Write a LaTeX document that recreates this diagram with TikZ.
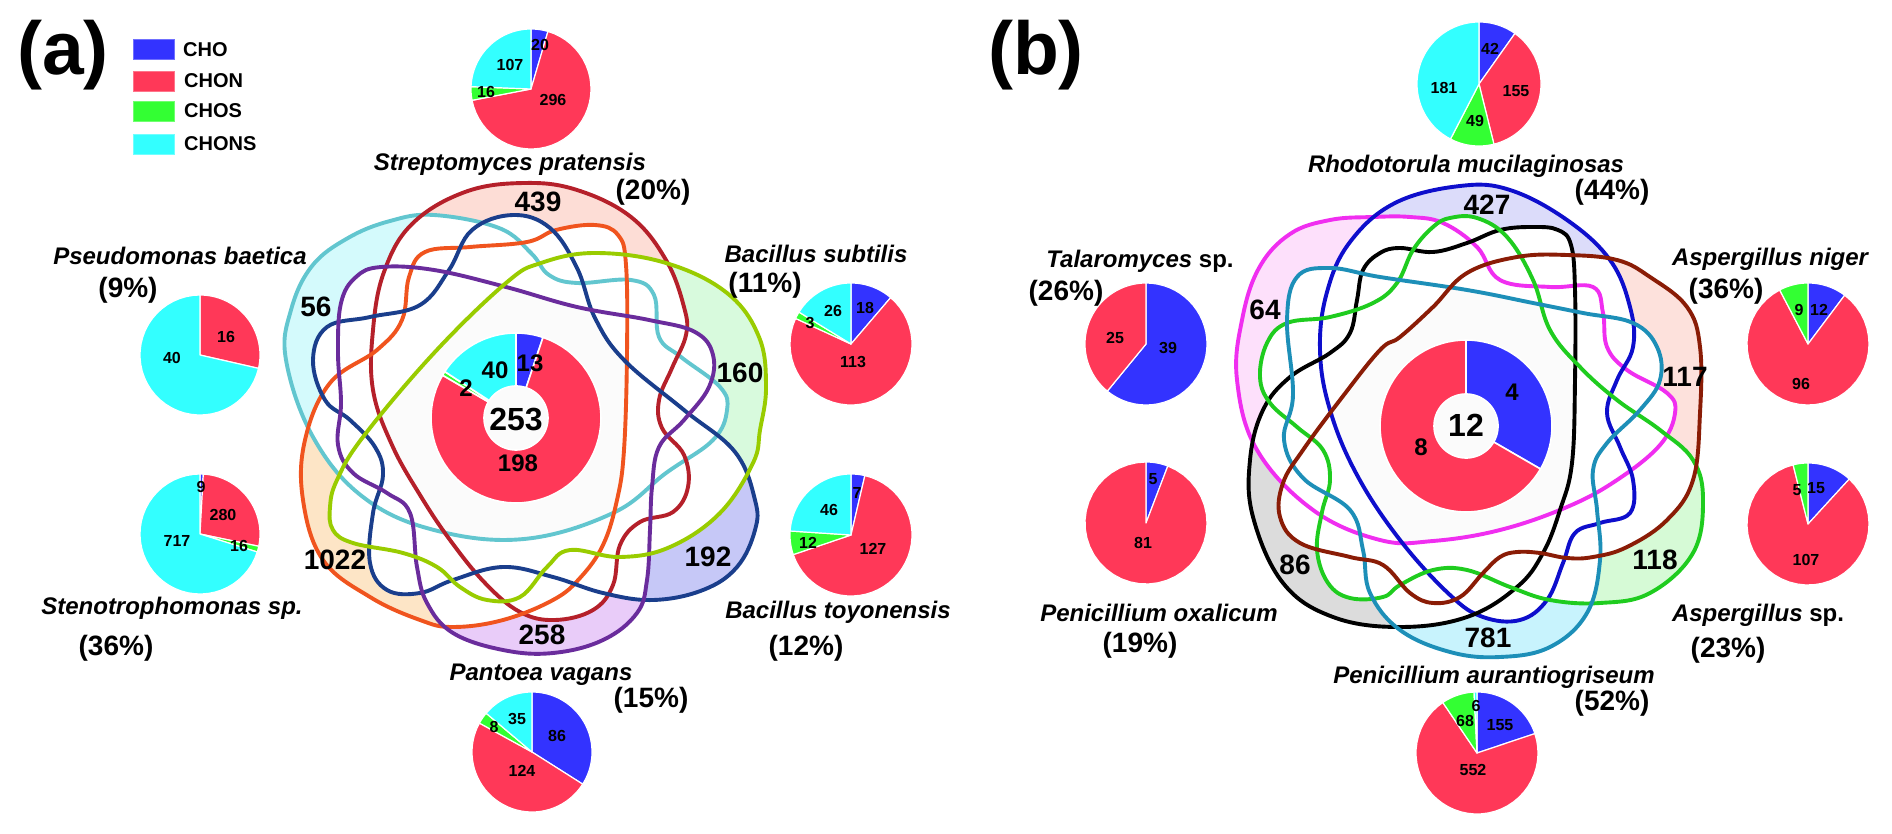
\documentclass[tikz,border=0pt]{standalone}
\usepackage{fontspec}
\setmainfont{Liberation Sans}
\definecolor{cho}{HTML}{3333FF}
\definecolor{chon}{HTML}{FF3858}
\definecolor{chos}{HTML}{33FF33}
\definecolor{chons}{HTML}{33FFFF}
% panel a curves
\definecolor{aTl}{HTML}{62C6CF}\definecolor{aTlf}{HTML}{D4FAFC}
\definecolor{aRd}{HTML}{B5202A}\definecolor{aRdf}{HTML}{FDDDD6}
\definecolor{aOr}{HTML}{F0541E}\definecolor{aOrf}{HTML}{FDE5C6}
\definecolor{aNv}{HTML}{1A3E8C}\definecolor{aNvf}{HTML}{C6C8F7}
\definecolor{aPu}{HTML}{6A2C9C}\definecolor{aPuf}{HTML}{E9CCF9}
\definecolor{aGr}{HTML}{99CC00}\definecolor{aGrf}{HTML}{D8FADD}
% panel b curves
\definecolor{bBl}{HTML}{0E0ECC}\definecolor{bBlf}{HTML}{DCDCFA}
\definecolor{bMg}{HTML}{F02EF0}\definecolor{bMgf}{HTML}{FDE0FB}
\definecolor{bGr}{HTML}{1FCC1F}\definecolor{bGrf}{HTML}{D6FAD6}
\definecolor{bBk}{HTML}{000000}\definecolor{bBkf}{HTML}{DCDCDC}
\definecolor{bTl}{HTML}{1D8FB8}\definecolor{bTlf}{HTML}{C8F3FD}
\definecolor{bBr}{HTML}{8A1C06}\definecolor{bBrf}{HTML}{FDE1DC}
\definecolor{cen}{HTML}{FBFBFB}
\tikzset{
 plbl/.style={font=\bfseries\fontsize{16}{16}\selectfont, inner sep=0pt},
 num/.style={font=\bfseries\fontsize{28}{28}\selectfont, inner sep=0pt},
 spec/.style={font=\bfseries\itshape\fontsize{24}{24}\selectfont, inner sep=0pt, anchor=base},
 pct/.style={font=\bfseries\fontsize{28}{28}\selectfont, inner sep=0pt},
 dlbl/.style={font=\bfseries\fontsize{24}{24}\selectfont, inner sep=0pt},
 big/.style={font=\bfseries\fontsize{32}{32}\selectfont, inner sep=0pt},
 panel/.style={font=\bfseries\fontsize{75}{75}\selectfont, inner sep=0pt},
 legtxt/.style={font=\bfseries\fontsize{20}{20}\selectfont, inner sep=0pt, anchor=west},
 legbox/.style={line width=0.6pt},
 venn/.style={line width=3.9pt},
}
\newcommand\pslice[6]{\fill[#6,draw=white,line width=1.2pt,line join=round] (#1,#2) -- plot[domain=#4:#5,samples=40,variable=\t] ({#1+#3*cos(\t)},{#2+#3*sin(\t)}) -- cycle;}
\newcommand\dslice[7]{\fill[#7,draw=white,line width=1.6pt,line join=round] plot[domain=#5:#6,samples=60,variable=\t] ({#1+#3*cos(\t)},{#2+#3*sin(\t)}) -- plot[domain=#6:#5,samples=60,variable=\t] ({#1+#4*cos(\t)},{#2+#4*sin(\t)}) -- cycle;}
\begin{document}
\begin{tikzpicture}[x=1pt,y=-1pt]
\useasboundingbox (0,0) rectangle (1892,834);
% ---------- curve definitions (panel a)
\def\cA{plot[smooth cycle,tension=0.65] coordinates {(286,360)(313,437)(363,497)(434,530)(524,539)(613,513)(666,473)(713,440)(727,410)(720,387)(681,357)(659,337)(654,295)(631,280)(577,283)(549,275)(531,253)(499,228)(434,215)(390,221)(348,238)(312,266)(291,310)}}
\def\cB{plot[smooth cycle,tension=0.65] coordinates {(524,183)(577,190)(631,217)(666,260)(684,307)(686,335)(672,368)(659,400)(662,428)(684,455)(688,487)(673,512)(640,522)(620,545)(613,585)(593,610)(555,620)(520,612)(485,583)(450,540)(420,495)(392,445)(373,390)(373,330)(384,272)(412,224)(465,192)}}
\def\cC{plot[smooth cycle,tension=0.65] coordinates {(527,242)(556,230)(595,225)(618,235)(626,265)(627,353)(624,450)(617,500)(603,545)(580,578)(553,600)(503,620)(453,627)(420,620)(370,597)(323,560)(303,500)(305,440)(330,383)(377,350)(402,320)(409,277)(425,252)(470,247)}}
\def\cD{plot[smooth cycle,tension=0.65] coordinates {(513,215)(550,228)(577,268)(595,318)(624,360)(684,410)(735,452)(755,500)(755,530)(737,567)(703,590)(653,600)(603,593)(553,577)(503,567)(453,580)(420,593)(387,590)(370,563)(373,513)(383,475)(375,447)(350,420)(325,400)(313,360)(327,327)(370,317)(420,305)(449,270)(472,230)}}
\def\cE{plot[smooth cycle,tension=0.65] coordinates {(381,267)(434,270)(506,287)(577,307)(649,320)(695,332)(713,355)(709,387)(684,420)(659,447)(652,487)(650,530)(647,580)(637,613)(603,640)(553,653)(503,650)(453,633)(427,603)(417,567)(410,513)(387,493)(353,473)(338,445)(341,403)(338,353)(341,303)(356,277)}}
\def\cF{plot[smooth cycle,tension=0.65] coordinates {(595,253)(666,263)(727,293)(759,337)(766,387)(760,430)(753,463)(720,513)(670,547)(620,557)(570,550)(547,567)(520,597)(487,600)(460,587)(437,567)(403,553)(353,543)(333,530)(330,507)(337,480)(363,437)(434,353)(506,283)(541,263)}}
% ---------- curve definitions (panel b)
\def\cM{plot[smooth cycle,tension=0.65] coordinates {(1290,234)(1330,220)(1373,217)(1410,217)(1443,223)(1477,247)(1500,280)(1550,287)(1593,287)(1603,313)(1607,347)(1627,370)(1667,393)(1675,413)(1660,445)(1617,480)(1567,507)(1500,530)(1433,541)(1380,540)(1313,510)(1257,450)(1237,380)(1242,320)(1259,268)}}
\def\cN{plot[smooth cycle,tension=0.65] coordinates {(1350,242)(1395,203)(1460,186)(1510,190)(1567,220)(1610,260)(1630,307)(1633,347)(1617,380)(1607,413)(1620,447)(1633,480)(1630,513)(1600,523)(1575,533)(1563,563)(1547,600)(1520,620)(1483,617)(1450,595)(1400,540)(1357,475)(1330,410)(1320,350)(1327,292)}}
\def\cK{plot[smooth cycle,tension=0.65] coordinates {(1380,253)(1400,248)(1433,252)(1467,243)(1500,230)(1533,227)(1558,230)(1571,245)(1575,290)(1575,380)(1572,463)(1560,510)(1543,553)(1517,587)(1467,617)(1400,627)(1333,617)(1283,583)(1253,517)(1250,460)(1263,410)(1290,377)(1330,353)(1350,333)(1357,300)(1363,270)}}
\def\cG{plot[smooth cycle,tension=0.65] coordinates {(1433,227)(1450,218)(1477,218)(1507,237)(1533,280)(1550,330)(1580,367)(1617,400)(1660,430)(1693,460)(1703,500)(1693,553)(1650,593)(1600,603)(1550,600)(1510,587)(1467,570)(1433,570)(1400,585)(1383,597)(1350,598)(1328,583)(1317,550)(1322,512)(1330,480)(1323,450)(1297,427)(1270,403)(1260,377)(1267,343)(1287,323)(1330,317)(1373,303)(1397,283)(1413,250)}}
\def\cT{plot[smooth cycle,tension=0.65] coordinates {(1297,277)(1330,268)(1380,277)(1467,290)(1533,303)(1583,313)(1633,323)(1657,347)(1660,380)(1640,410)(1607,443)(1593,470)(1597,510)(1600,560)(1587,613)(1550,647)(1500,657)(1450,652)(1400,630)(1370,593)(1363,550)(1350,510)(1303,478)(1284,440)(1293,395)(1287,320)}}
\def\cR{plot[smooth cycle,tension=0.65] coordinates {(1400,337)(1433,307)(1467,273)(1517,257)(1567,255)(1617,260)(1650,277)(1687,307)(1700,347)(1700,413)(1693,480)(1667,520)(1627,547)(1593,557)(1567,558)(1540,553)(1517,552)(1500,557)(1483,573)(1460,597)(1433,603)(1410,593)(1383,565)(1350,557)(1300,543)(1280,517)(1283,483)(1303,450)(1340,400)(1380,350)}}
% ---------- unique-region fills (panel a)
\begin{scope}\clip \cA; \fill[aTlf] \cA; \fill[white] \cB; \fill[white] \cC; \fill[white] \cD; \fill[white] \cE; \fill[white] \cF;\end{scope}
\begin{scope}\clip \cB; \fill[aRdf] \cB; \fill[white] \cA; \fill[white] \cC; \fill[white] \cD; \fill[white] \cE; \fill[white] \cF;\end{scope}
\begin{scope}\clip \cC; \fill[aOrf] \cC; \fill[white] \cA; \fill[white] \cB; \fill[white] \cD; \fill[white] \cE; \fill[white] \cF;\end{scope}
\begin{scope}\clip \cD; \fill[aNvf] \cD; \fill[white] \cA; \fill[white] \cB; \fill[white] \cC; \fill[white] \cE; \fill[white] \cF;\end{scope}
\begin{scope}\clip \cE; \fill[aPuf] \cE; \fill[white] \cA; \fill[white] \cB; \fill[white] \cC; \fill[white] \cD; \fill[white] \cF;\end{scope}
\begin{scope}\clip \cF; \fill[aGrf] \cF; \fill[white] \cA; \fill[white] \cB; \fill[white] \cC; \fill[white] \cD; \fill[white] \cE;\end{scope}
\begin{scope}\clip \cA; \clip \cB; \clip \cC; \clip \cD; \clip \cE; \clip \cF; \fill[cen] (0,0) rectangle (1892,834);\end{scope}
% ---------- unique-region fills (panel b)
\begin{scope}\clip \cM; \fill[bMgf] \cM; \fill[white] \cN; \fill[white] \cK; \fill[white] \cG; \fill[white] \cT; \fill[white] \cR;\end{scope}
\begin{scope}\clip \cN; \fill[bBlf] \cN; \fill[white] \cM; \fill[white] \cK; \fill[white] \cG; \fill[white] \cT; \fill[white] \cR;\end{scope}
\begin{scope}\clip \cK; \fill[bBkf] \cK; \fill[white] \cM; \fill[white] \cN; \fill[white] \cG; \fill[white] \cT; \fill[white] \cR;\end{scope}
\begin{scope}\clip \cG; \fill[bGrf] \cG; \fill[white] \cM; \fill[white] \cN; \fill[white] \cK; \fill[white] \cT; \fill[white] \cR;\end{scope}
\begin{scope}\clip \cT; \fill[bTlf] \cT; \fill[white] \cM; \fill[white] \cN; \fill[white] \cK; \fill[white] \cG; \fill[white] \cR;\end{scope}
\begin{scope}\clip \cR; \fill[bBrf] \cR; \fill[white] \cM; \fill[white] \cN; \fill[white] \cK; \fill[white] \cG; \fill[white] \cT;\end{scope}
\begin{scope}\clip \cM; \clip \cN; \clip \cK; \clip \cG; \clip \cT; \clip \cR; \fill[cen] (0,0) rectangle (1892,834);\end{scope}
% ---------- curve outlines
\draw[venn,aTl] \cA; \draw[venn,aRd] \cB; \draw[venn,aOr] \cC;
\draw[venn,aNv] \cD; \draw[venn,aPu] \cE; \draw[venn,aGr] \cF;
\draw[venn,bMg] \cM; \draw[venn,bBl] \cN; \draw[venn,bBk] \cK;
\draw[venn,bGr] \cG; \draw[venn,bTl] \cT; \draw[venn,bBr] \cR;
% ---------- central donuts
\dslice{516}{418}{85}{32}{-90}{-71.50}{cho}
\dslice{516}{418}{85}{32}{-71.50}{210.24}{chon}
\dslice{516}{418}{85}{32}{210.24}{213.09}{chos}
\dslice{516}{418}{85}{32}{213.09}{270}{chons}
\dslice{1466}{426}{86}{32}{-90}{30}{cho}
\dslice{1466}{426}{86}{32}{30}{270}{chon}
% ---------- pies panel a
\pslice{531}{89}{60}{-90}{-73.60}{cho}\pslice{531}{89}{60}{-73.60}{169.13}{chon}\pslice{531}{89}{60}{169.13}{182.25}{chos}\pslice{531}{89}{60}{182.25}{270}{chons}
\pslice{200}{355}{60}{-90}{12.86}{chon}\pslice{200}{355}{60}{12.86}{270}{chons}
\pslice{200}{534}{60}{-90}{-86.83}{cho}\pslice{200}{534}{60}{-86.83}{11.80}{chon}\pslice{200}{534}{60}{11.80}{17.44}{chos}\pslice{200}{534}{60}{17.44}{270}{chons}
\pslice{851}{344}{61}{-90}{-49.5}{cho}\pslice{851}{344}{61}{-49.5}{204.75}{chon}\pslice{851}{344}{61}{204.75}{211.5}{chos}\pslice{851}{344}{61}{211.5}{270}{chons}
\pslice{851}{535}{61}{-90}{-76.875}{cho}\pslice{851}{535}{61}{-76.875}{161.25}{chon}\pslice{851}{535}{61}{161.25}{183.75}{chos}\pslice{851}{535}{61}{183.75}{270}{chons}
\pslice{532}{752}{60}{-90}{32.37}{cho}\pslice{532}{752}{60}{32.37}{208.81}{chon}\pslice{532}{752}{60}{208.81}{220.20}{chos}\pslice{532}{752}{60}{220.20}{270}{chons}
% ---------- pies panel b
\pslice{1479}{84}{62}{-90}{-54.59}{cho}\pslice{1479}{84}{62}{-54.59}{76.09}{chon}\pslice{1479}{84}{62}{76.09}{117.40}{chos}\pslice{1479}{84}{62}{117.40}{270}{chons}
\pslice{1146}{344}{61}{-90}{129.375}{cho}\pslice{1146}{344}{61}{129.375}{270}{chon}
\pslice{1146}{523}{61}{-90}{-69.07}{cho}\pslice{1146}{523}{61}{-69.07}{270}{chon}
\pslice{1477}{753}{61}{-90}{-18.55}{cho}\pslice{1477}{753}{61}{-18.55}{235.90}{chon}\pslice{1477}{753}{61}{235.90}{267.23}{chos}\pslice{1477}{753}{61}{267.23}{270}{chons}
\pslice{1808}{344}{61}{-90}{-53.08}{cho}\pslice{1808}{344}{61}{-53.08}{242.31}{chon}\pslice{1808}{344}{61}{242.31}{270}{chos}
\pslice{1808}{524}{61}{-90}{-47.48}{cho}\pslice{1808}{524}{61}{-47.48}{255.83}{chon}\pslice{1808}{524}{61}{255.83}{270}{chos}
% ---------- panel labels and legend
\node[panel] (pa) at (63,55) {(a)};
\node[panel] (pb) at (1036,55) {(b)};
\fill[cho,draw=cho!70!white,legbox] (133,39) rectangle (174,59);
\fill[chon,draw=chon!70!white,legbox] (133,71) rectangle (174,91);
\fill[chos,draw=chos!70!white,legbox] (133,101) rectangle (174,121);
\fill[chons,draw=chons!70!white,legbox] (133,134) rectangle (174,154);
\node[legtxt] (l1) at (183,50) {CHO};
\node[legtxt] (l2) at (184,81) {CHON};
\node[legtxt] (l3) at (184,111) {CHOS};
\node[legtxt] (l4) at (184,144) {CHONS};
% ---------- species labels
\node[spec] (s1) at (510,171) {Streptomyces pratensis};
\node[pct] (p1) at (653,192) {(20\%)};
\node[spec] (s2) at (180,265) {Pseudomonas baetica};
\node[pct] (p2) at (128,290) {(9\%)};
\node[spec] (s3) at (816,262) {Bacillus subtilis};
\node[pct] (p3) at (765,285) {(11\%)};
\node[spec] (s4) at (838,618) {Bacillus toyonensis};
\node[pct] (p4) at (806,648) {(12\%)};
\node[spec] (s5) at (541,680) {Pantoea vagans};
\node[pct] (p5) at (651,700) {(15\%)};
\node[spec] (s6) at (172,614) {Stenotrophomonas sp.};
\node[pct] (p6) at (116,648) {(36\%)};
\node[spec] (s7) at (1466,173) {Rhodotorula mucilaginosas};
\node[pct] (p7) at (1612,192) {(44\%)};
\node[spec] (s8) at (1140,268) {Talaromyces \upshape sp.};
\node[pct] (p8) at (1066,293) {(26\%)};
\node[spec] (s9) at (1159,621) {Penicillium oxalicum};
\node[pct] (p9) at (1140,645) {(19\%)};
\node[spec] (s10) at (1494,683) {Penicillium aurantiogriseum};
\node[pct] (p10) at (1612,703) {(52\%)};
\node[spec] (s11) at (1770,266) {Aspergillus niger};
\node[pct] (p11) at (1726,291) {(36\%)};
\node[spec] (s12) at (1758,621) {Aspergillus \upshape sp.};
\node[pct] (p12) at (1728,650) {(23\%)};
% ---------- Venn region numbers
\node[num] (n1) at (538,202) {439};
\node[num] (n2) at (316,307) {56};
\node[num] (n3) at (740,373) {160};
\node[num] (n4) at (708,557) {192};
\node[num] (n5) at (542,635) {258};
\node[num] (n6) at (335,560) {1022};
\node[num] (n7) at (1487,205) {427};
\node[num] (n8) at (1685,377) {117};
\node[num] (n9) at (1655,560) {118};
\node[num] (n10) at (1488,638) {781};
\node[num] (n11) at (1265,310) {64};
\node[num] (n12) at (1295,565) {86};
% ---------- donut labels
\node[big] (d1) at (516,420) {253};
\node[dlbl] (d2) at (530,363) {13};
\node[dlbl] (d3) at (495,370) {40};
\node[dlbl] (d4) at (466,388) {2};
\node[dlbl] (d5) at (518,463) {198};
\node[big] (d6) at (1466,425) {12};
\node[dlbl] (d7) at (1512,392) {4};
\node[dlbl] (d8) at (1421,447) {8};
% ---------- pie labels panel a
\node[plbl] (a1) at (540,45) {20};
\node[plbl] (a2) at (510,65) {107};
\node[plbl] (a3) at (486,92) {16};
\node[plbl] (a4) at (553,100) {296};
\node[plbl] (a5) at (226,337) {16};
\node[plbl] (a6) at (172,358) {40};
\node[plbl] (a7) at (201,487) {9};
\node[plbl] (a8) at (223,515) {280};
\node[plbl] (a9) at (239,546) {16};
\node[plbl] (a10) at (177,541) {717};
\node[plbl] (a11) at (865,308) {18};
\node[plbl] (a12) at (833,311) {26};
\node[plbl] (a13) at (810,323) {3};
\node[plbl] (a14) at (853,362) {113};
\node[plbl] (a15) at (857,493) {7};
\node[plbl] (a16) at (829,510) {46};
\node[plbl] (a17) at (808,543) {12};
\node[plbl] (a18) at (873,549) {127};
\node[plbl] (a19) at (557,736) {86};
\node[plbl] (a20) at (522,771) {124};
\node[plbl] (a21) at (494,727) {8};
\node[plbl] (a22) at (517,719) {35};
% ---------- pie labels panel b
\node[plbl] (b1) at (1490,49) {42};
\node[plbl] (b2) at (1516,91) {155};
\node[plbl] (b3) at (1475,121) {49};
\node[plbl] (b4) at (1444,88) {181};
\node[plbl] (b5) at (1168,348) {39};
\node[plbl] (b6) at (1115,338) {25};
\node[plbl] (b7) at (1153,479) {5};
\node[plbl] (b8) at (1143,543) {81};
\node[plbl] (b9) at (1476,706) {6};
\node[plbl] (b10) at (1465,721) {68};
\node[plbl] (b11) at (1500,725) {155};
\node[plbl] (b12) at (1473,770) {552};
\node[plbl] (b13) at (1819,310) {12};
\node[plbl] (b14) at (1799,310) {9};
\node[plbl] (b15) at (1801,384) {96};
\node[plbl] (b16) at (1816,488) {15};
\node[plbl] (b17) at (1797,490) {5};
\node[plbl] (b18) at (1806,560) {107};
\end{tikzpicture}
\end{document}
